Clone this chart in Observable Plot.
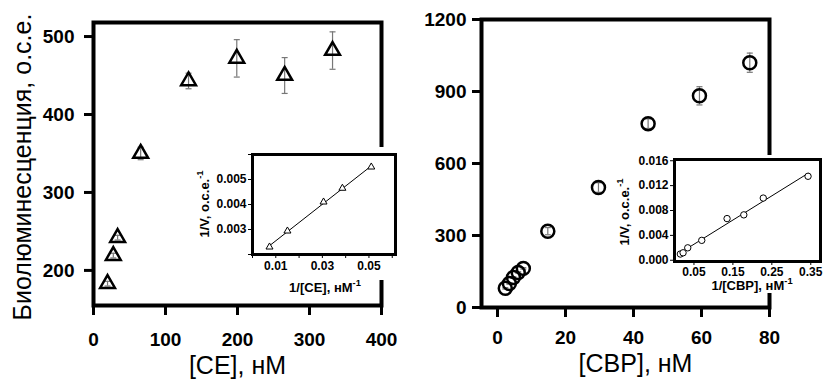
<!DOCTYPE html>
<html><head><meta charset="utf-8">
<script src="https://cdn.jsdelivr.net/npm/d3@7"></script>
<script src="https://cdn.jsdelivr.net/npm/@observablehq/plot@0.6"></script>
<style>
body{margin:0;background:#fff;}
#wrap{position:relative;width:828px;height:384px;overflow:hidden;background:#fff;font-family:"Liberation Sans",Arial,sans-serif;}
#wrap svg{position:absolute;overflow:visible;max-width:none;}
</style></head><body><div id="wrap"></div>
<script>
// ---- Data ----
const ceConc = [19.5, 27.5, 33.5, 65.5, 132, 199, 265.5, 332];
const ceLum  = [183, 219, 242, 350, 443, 472, 450, 482];
const ceErr  = [3, 3, 3, 8, 10, 24, 23, 24];
const ceInvX = [0.0073, 0.015, 0.0305, 0.0386, 0.051];
const ceInvY = [0.0023, 0.00294, 0.0041, 0.00465, 0.0055];

const cbpConc = [2.3, 3.5, 4.7, 6.1, 7.6, 14.8, 29.7, 44.3, 59.4, 74.2];
const cbpLum  = [80, 100, 125, 146, 163, 318, 500, 766, 882, 1020];
const cbpErr  = [3, 3, 3, 3, 3, 15, 20, 20, 38, 40];
const cbpInvX = [0.015, 0.022, 0.034, 0.07, 0.135, 0.178, 0.228, 0.343];
const cbpInvY = [0.001, 0.0012, 0.002, 0.0032, 0.0067, 0.0073, 0.0100, 0.0135];

const ceXTicks = [0, 100, 200, 300, 400];
const ceYTicks = [200, 300, 400, 500];
const cbpXTicks = [0, 20, 40, 60, 80];
const cbpYTicks = [0, 300, 600, 900, 1200];
const ceInsetXTicks = [0, 0.01, 0.02, 0.03, 0.04, 0.05, 0.06];
const ceInsetXLabels = ["", "0.01", "", "0.03", "", "0.05", ""];
const ceInsetYTicks = [0.002, 0.003, 0.004, 0.005, 0.006];
const ceInsetYLabels = ["", "0.003", "0.004", "0.005", ""];
const cbpInsetXTicks = [0.05, 0.15, 0.25, 0.35];
const cbpInsetXLabels = ["0.05", "0.15", "0.25", "0.35"];
const cbpInsetYTicks = [0, 0.004, 0.008, 0.012, 0.016];
const cbpInsetYLabels = ["0.000", "0.004", "0.008", "0.012", "0.016"];

const yTitleMain = "Биолюминесценция, о.с.е.";
const xTitleCE = "[CE], нМ";
const xTitleCBP = "[CBP], нМ";

// ---- helpers ----
const FONT = "Liberation Sans, Arial, sans-serif";
const ceData = ceConc.map((x, i) => ({x, y: ceLum[i], e: ceErr[i]}));
const cbpData = cbpConc.map((x, i) => ({x, y: cbpLum[i], e: cbpErr[i]}));
const ceInv = ceInvX.map((x, i) => ({x, y: ceInvY[i]}));
const cbpInv = cbpInvX.map((x, i) => ({x, y: cbpInvY[i]}));
const labelFn = (ticks, labels) => { const m = new Map(ticks.map((t, i) => [t, labels[i]])); return d => m.has(d) ? m.get(d) : ""; };
const plain = d => String(d);
const capSymbol = {draw(ctx, size) { const r = Math.sqrt(size / Math.PI); ctx.moveTo(-r, 0); ctx.lineTo(r, 0); }};
const errMarks = (data, col, w) => [
  Plot.ruleX(data, {x: "x", y1: d => d.y - d.e, y2: d => d.y + d.e, stroke: col, strokeWidth: w}),
  Plot.dot(data, {x: "x", y: d => d.y + d.e, symbol: capSymbol, r: 3, stroke: col, strokeWidth: w, fill: "none"}),
  Plot.dot(data, {x: "x", y: d => d.y - d.e, symbol: capSymbol, r: 3, stroke: col, strokeWidth: w, fill: "none"})
];
const wrap = document.getElementById("wrap");
function place(svg, left, top, bg) {
  svg.style.left = left + "px"; svg.style.top = top + "px";
  svg.style.background = bg;
  wrap.appendChild(svg);
  return svg;
}
function supTitle(svg, x, y, rotate, main, sup, size) {
  const t = d3.select(svg).append("text")
    .attr("transform", `translate(${x},${y}) rotate(${rotate})`)
    .attr("text-anchor", "middle").attr("dy", "0.35em")
    .attr("font-family", FONT).attr("font-weight", "bold").attr("font-size", size).attr("fill", "black");
  t.append("tspan").text(main);
  t.append("tspan").attr("font-size", size * 0.72).attr("dy", -size * 0.42).text(sup);
}

// ---- Left main ----
const left = Plot.plot({
  width: 414, height: 384, marginLeft: 93, marginRight: 33, marginTop: 22, marginBottom: 79,
  style: {fontFamily: FONT, color: "black"},
  x: {domain: [0, 400]}, y: {domain: [155, 518]},
  marks: [
    Plot.frame({strokeWidth: 4, stroke: "black"}),
    Plot.axisX({ticks: ceXTicks, tickFormat: plain, tickSize: 10, tickPadding: 17, strokeWidth: 3, fontSize: 19, fontWeight: "bold", label: null}),
    Plot.axisY({ticks: ceYTicks, tickFormat: plain, tickSize: 9, tickPadding: 10, strokeWidth: 3, fontSize: 19, fontWeight: "bold", label: null}),
    ...errMarks(ceData, "#777", 1.2),
    Plot.dot(ceData, {x: "x", y: "y", symbol: "triangle", r: 5.5, stroke: "black", strokeWidth: 2.5, fill: "none"}),
    Plot.text([yTitleMain], {text: d => d, frameAnchor: "left", textAnchor: "middle", lineAnchor: "middle", dx: -71, dy: 3, rotate: -90, fontSize: 25}),
    Plot.text([xTitleCE], {text: d => d, frameAnchor: "bottom", textAnchor: "middle", lineAnchor: "middle", dy: 60, fontSize: 25})
  ]
});
place(left, 0, 0, "transparent");

// ---- Right main ----
const right = Plot.plot({
  width: 414, height: 384, marginLeft: 67, marginRight: 59, marginTop: 19, marginBottom: 77,
  style: {fontFamily: FONT, color: "black"},
  x: {domain: [-4.7, 80]}, y: {domain: [0, 1200]},
  marks: [
    Plot.frame({strokeWidth: 4, stroke: "black"}),
    Plot.axisX({ticks: cbpXTicks, tickFormat: plain, tickSize: 10, tickPadding: 13, strokeWidth: 3, fontSize: 19, fontWeight: "bold", label: null}),
    Plot.axisY({ticks: cbpYTicks, tickFormat: plain, tickSize: 9, tickPadding: 6, strokeWidth: 3, fontSize: 19, fontWeight: "bold", label: null}),
    ...errMarks(cbpData, "#777", 1.2),
    Plot.dot(cbpData, {x: "x", y: "y", r: 6.5, stroke: "black", strokeWidth: 2.5, fill: "none"}),
    Plot.text([xTitleCBP], {text: d => d, frameAnchor: "bottom", textAnchor: "middle", lineAnchor: "middle", dx: 10, dy: 56, fontSize: 25})
  ]
});
place(right, 414, 0, "transparent");

// ---- Left inset ----
const insetL = Plot.plot({
  width: 210, height: 133, marginLeft: 62, marginRight: 5, marginTop: 7, marginBottom: 26,
  style: {fontFamily: FONT, color: "black"},
  x: {domain: [0, 0.0614]}, y: {domain: [0.002, 0.006]},
  marks: [
    Plot.frame({strokeWidth: 3, stroke: "black"}),
    Plot.axisX({ticks: ceInsetXTicks, tickFormat: labelFn(ceInsetXTicks, ceInsetXLabels), tickSize: 4, tickPadding: 3, strokeWidth: 1, fontSize: 12, fontWeight: "bold", label: null}),
    Plot.axisY({ticks: ceInsetYTicks, tickFormat: labelFn(ceInsetYTicks, ceInsetYLabels), tickSize: 4, tickPadding: 2, strokeWidth: 1, fontSize: 12, fontWeight: "bold", label: null}),
    Plot.linearRegressionY(ceInv, {x: "x", y: "y", ci: 0, stroke: "black", strokeWidth: 1}),
    Plot.dot(ceInv, {x: "x", y: "y", symbol: "triangle", r: 2.6, stroke: "black", strokeWidth: 1, fill: "white"})
  ]
});
place(insetL, 190, 147, "white");
supTitle(insetL, 135, 140, 0, "1/[CE], нМ", "-1", 13);
supTitle(insetL, 14, 57, -90, "1/V, о.с.е.", "-1", 13);

// ---- Right inset ----
const insetR = Plot.plot({
  width: 216, height: 138, marginLeft: 62, marginRight: 8, marginTop: 4, marginBottom: 32,
  style: {fontFamily: FONT, color: "black"},
  x: {domain: [0, 0.375]}, y: {domain: [-0.0002, 0.0162]},
  marks: [
    Plot.frame({strokeWidth: 3, stroke: "black"}),
    Plot.axisX({ticks: cbpInsetXTicks, tickFormat: labelFn(cbpInsetXTicks, cbpInsetXLabels), tickSize: 4, tickPadding: 2, strokeWidth: 1, fontSize: 12, fontWeight: "bold", label: null}),
    Plot.axisY({ticks: cbpInsetYTicks, tickFormat: labelFn(cbpInsetYTicks, cbpInsetYLabels), tickSize: 4, tickPadding: 2, strokeWidth: 1, fontSize: 12, fontWeight: "bold", label: null}),
    Plot.linearRegressionY(cbpInv, {x: "x", y: "y", ci: 0, stroke: "black", strokeWidth: 1}),
    Plot.dot(cbpInv, {x: "x", y: "y", r: 3.2, stroke: "black", strokeWidth: 1, fill: "white"})
  ]
});
place(insetR, 612, 155, "white");
supTitle(insetR, 140, 130, 0, "1/[CBP], нМ", "-1", 13);
supTitle(insetR, 12, 57, -90, "1/V, о.с.е.", "-1", 13);
</script></body></html>
